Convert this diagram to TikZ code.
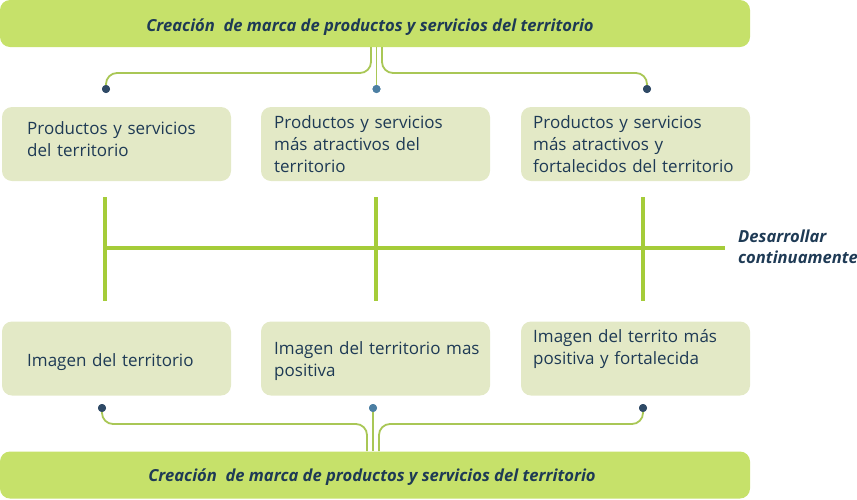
\documentclass[tikz,border=0pt]{standalone}
\usepackage{fontspec}
\setmainfont{Open Sans}
\definecolor{barG}{HTML}{C6E16A}
\definecolor{boxG}{HTML}{E3E9C6}
\definecolor{connG}{HTML}{A9C756}
\definecolor{lineG}{HTML}{A5CC39}
\definecolor{navy}{HTML}{1E3A55}
\definecolor{dotD}{HTML}{2F4A66}
\definecolor{dotB}{HTML}{4C7FA3}
\tikzset{
  bar/.style={fill=barG, draw=none, rounded corners=10pt, minimum width=750pt, minimum height=47pt, inner sep=0pt},
  box/.style={fill=boxG, draw=none, rounded corners=10pt, minimum width=229pt, minimum height=74pt, inner sep=0pt},
  title/.style={text=navy, font=\fontsize{16.6}{20}\selectfont\bfseries\itshape, inner sep=0pt, anchor=base},
  txt/.style={text=navy, font=\fontsize{17}{22}\selectfont, text width=225pt, align=left, inner sep=0pt, anchor=base west},
  lbl/.style={text=navy, font=\fontsize{16.6}{21}\selectfont\bfseries\itshape, text width=125pt, align=left, inner sep=0pt, anchor=base west},
  conn/.style={draw=connG, line width=1.8pt, rounded corners=11pt},
  tline/.style={draw=lineG, line width=3.2pt},
  dotdark/.style={circle, fill=dotD, minimum size=8pt, inner sep=0pt},
  dotblue/.style={circle, fill=dotB, minimum size=8pt, inner sep=0pt}
}
\begin{document}
\begin{tikzpicture}[x=1pt,y=-1pt]
\useasboundingbox (0,0) rectangle (857,499);
% bars
\node[bar] (topbar) at (375,23.5) {};
\node[bar] (botbar) at (375,475) {};
\node[title] (toptitle) at (370,31.5) {Creación\ \ de marca de productos y servicios del territorio};
\node[title] (bottitle) at (372,481) {Creación\ \ de marca de productos y servicios del territorio};
% boxes
\node[box] (b1) at (116.5,144) {};
\node[box] (b2) at (375.5,144) {};
\node[box] (b3) at (635.5,144) {};
\node[box] (c1) at (116.5,358.5) {};
\node[box] (c2) at (375.5,358.5) {};
\node[box] (c3) at (635.5,358.5) {};
% texts
\node[txt] (tb1) at (27,134) {Productos y servicios\\del territorio};
\node[txt] (tb2) at (274,128) {Productos y servicios\\más atractivos del\\territorio};
\node[txt] (tb3) at (533,128) {Productos y servicios\\más atractivos y\\fortalecidos del territorio};
\node[txt] (tc1) at (27,366) {Imagen del territorio};
\node[txt] (tc2) at (274,354) {Imagen del territorio mas\\positiva};
\node[txt] (tc3) at (533,342) {Imagen del territo más\\positiva y fortalecida};
% top connectors
\coordinate (s1) at (371,47);
\coordinate (s2) at (376.5,47);
\coordinate (s3) at (382,47);
\coordinate (h1) at (371,73);
\coordinate (h1e) at (106,73);
\coordinate (h3) at (382,73);
\coordinate (h3e) at (647,73);
\node[dotdark] (d1) at (106,89) {};
\node[dotblue] (d2) at (376.5,89) {};
\node[dotdark] (d3) at (647,89) {};
\draw[conn] (s1) -- (h1) -- (h1e) -- (d1.center);
\draw[conn] (s2) -- (d2.center);
\draw[conn] (s3) -- (h3) -- (h3e) -- (d3.center);
\node[dotdark] at (d1) {};
\node[dotblue] at (d2) {};
\node[dotdark] at (d3) {};
% bottom connectors
\coordinate (e1) at (367,451);
\coordinate (e2) at (373,451);
\coordinate (e3) at (379,451);
\coordinate (g1) at (367,424);
\coordinate (g1e) at (102,424);
\coordinate (g3) at (379,424);
\coordinate (g3e) at (643,424);
\node[dotdark] (f1) at (102,408) {};
\node[dotblue] (f2) at (373,408) {};
\node[dotdark] (f3) at (643,408) {};
\draw[conn] (e1) -- (g1) -- (g1e) -- (f1.center);
\draw[conn] (e2) -- (f2.center);
\draw[conn] (e3) -- (g3) -- (g3e) -- (f3.center);
\node[dotdark] at (f1) {};
\node[dotblue] at (f2) {};
\node[dotdark] at (f3) {};
% timeline
\coordinate (tl0) at (105,248);
\coordinate (tl1) at (725,248);
\coordinate (v1t) at (105,197);
\coordinate (v1b) at (105,301);
\coordinate (v2t) at (376,197);
\coordinate (v2b) at (376,301);
\coordinate (v3t) at (643,197);
\coordinate (v3b) at (643,301);
\draw[tline] (tl0) -- (tl1);
\draw[tline] (v1t) -- (v1b);
\draw[tline] (v2t) -- (v2b);
\draw[tline] (v3t) -- (v3b);
\node[lbl] (lab) at (738,242) {Desarrollar\\continuamente};
\end{tikzpicture}
\end{document}
